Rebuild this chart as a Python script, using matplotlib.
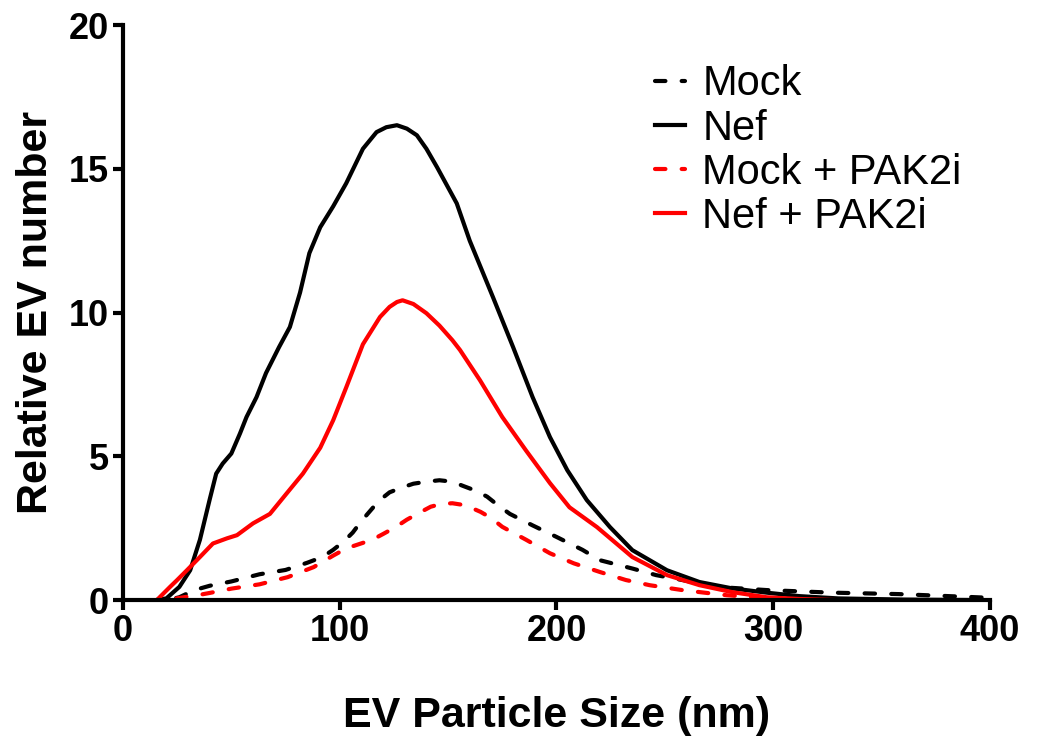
import matplotlib
matplotlib.use('Agg')
from matplotlib import pyplot as plt

plt.rcParams['font.family'] = ['Liberation Sans', 'DejaVu Sans']

# Mock
mock_x = [0, 18, 22, 26, 33, 40, 50, 63, 75, 85, 92, 97, 102, 106, 110, 114, 118, 123, 128, 134, 140,
          146, 152, 157, 163, 168, 173, 178.5, 189, 200, 212, 220, 235, 246, 258, 274, 297, 327.5, 358, 394, 400]
mock_y = [0, 0, 0.03, 0.1, 0.35, 0.5, 0.65, 0.9, 1.05, 1.3, 1.5, 1.75, 2.05, 2.35, 2.75, 3.1, 3.45, 3.75, 3.9, 4.05, 4.12,
          4.17, 4.12, 3.97, 3.8, 3.6, 3.3, 3.0, 2.6, 2.2, 1.75, 1.39, 1.1, 0.87, 0.7, 0.46, 0.35, 0.26, 0.21, 0.1, 0.08]

# Nef
nef_x = [0, 15, 20, 26, 31, 35.5, 40, 43, 46, 50, 54, 57, 61.6, 66, 72, 77, 81.7, 86, 91, 97, 103, 110.7,
         117, 121.5, 126.4, 131, 135.6, 140, 144.9, 154, 160, 170.7, 180, 189, 197, 205, 214, 224.7, 235,
         251, 266, 281, 297, 312, 330, 360, 400]
nef_y = [0, 0, 0.06, 0.46, 1.04, 2.1, 3.5, 4.4, 4.75, 5.1, 5.8, 6.37, 7.06, 7.9, 8.8, 9.5, 10.7, 12.07, 12.97, 13.7, 14.5, 15.7,
         16.28, 16.45, 16.52, 16.4, 16.17, 15.7, 15.06, 13.8, 12.5, 10.54, 8.8, 7.06, 5.67, 4.52, 3.48, 2.54, 1.74,
         1.04, 0.63, 0.41, 0.26, 0.14, 0.06, 0.02, 0.0]

# Mock + PAK2i
mockp_x = [0, 20, 28, 35, 40, 50, 63, 76, 88, 97, 103, 109, 115, 120, 126, 131, 137, 142, 147, 152, 158,
           165, 170, 175, 186, 197, 208, 220, 232, 243, 258, 278.6, 292, 305, 320, 400]
mockp_y = [0, 0, 0.1, 0.18, 0.25, 0.4, 0.55, 0.8, 1.15, 1.55, 1.8, 1.95, 2.1, 2.3, 2.55, 2.8, 3.05, 3.25, 3.35, 3.37, 3.3,
           3.07, 2.85, 2.55, 2.1, 1.63, 1.28, 0.98, 0.7, 0.52, 0.35, 0.17, 0.1, 0.03, 0.0, 0]

# Nef + PAK2i
nefp_x = [0, 15.6, 21.7, 25, 29.5, 35.5, 41.5, 48, 52.6, 60, 67.8, 75.6, 83, 91, 97, 103, 110.7, 118.6, 123,
          126.4, 129, 134, 140, 146, 152, 155.5, 164.7, 175, 186, 197, 206, 218.7, 235, 251, 266, 281, 297,
          312, 330, 400]
nefp_y = [0, 0, 0.46, 0.7, 1.04, 1.5, 1.97, 2.15, 2.26, 2.67, 3.0, 3.72, 4.4, 5.3, 6.26, 7.4, 8.9, 9.85, 10.2,
          10.37, 10.43, 10.3, 9.98, 9.55, 9.04, 8.7, 7.65, 6.37, 5.2, 4.07, 3.23, 2.54, 1.5, 0.87, 0.52, 0.28, 0.1,
          0.04, 0.0, 0]

fig = plt.figure(figsize=(10.37, 7.40), dpi=100)
ax = fig.add_axes([0.1186, 0.189, 0.836, 0.777])

lw = 3
dash = (2.5, 3.9)
ax.plot(mock_x, mock_y, color='black', lw=lw, dashes=dash, dash_capstyle='round', label='Mock')
ax.plot(nef_x, nef_y, color='black', lw=lw, label='Nef')
ax.plot(mockp_x, mockp_y, color='#ff0000', lw=lw, dashes=dash, dash_capstyle='round', label='Mock + PAK2i')
ax.plot(nefp_x, nefp_y, color='#ff0000', lw=lw, label='Nef + PAK2i')

ax.set_xlim(0, 400)
ax.set_ylim(0, 20)
ax.set_xticks([0, 100, 200, 300, 400])
ax.set_yticks([0, 5, 10, 15, 20])

for s in ['top', 'right']:
    ax.spines[s].set_visible(False)
for s in ['left', 'bottom']:
    ax.spines[s].set_linewidth(3)
ax.tick_params(width=3, length=7, labelsize=26, pad=3)
for lab in ax.get_xticklabels() + ax.get_yticklabels():
    lab.set_fontweight('bold')

ax.set_xlabel('EV Particle Size (nm)', fontsize=31, fontweight='bold', labelpad=34)
ax.set_ylabel('Relative EV number', fontsize=31, fontweight='bold', labelpad=9)

ax.legend(loc='upper left', bbox_to_anchor=(0.6316, 0.913), bbox_transform=fig.transFigure,
          frameon=False, fontsize=30, handlelength=0.72, handletextpad=0.42,
          labelspacing=0.1, borderaxespad=0, borderpad=0)

fig.savefig('out.png', dpi=100)
